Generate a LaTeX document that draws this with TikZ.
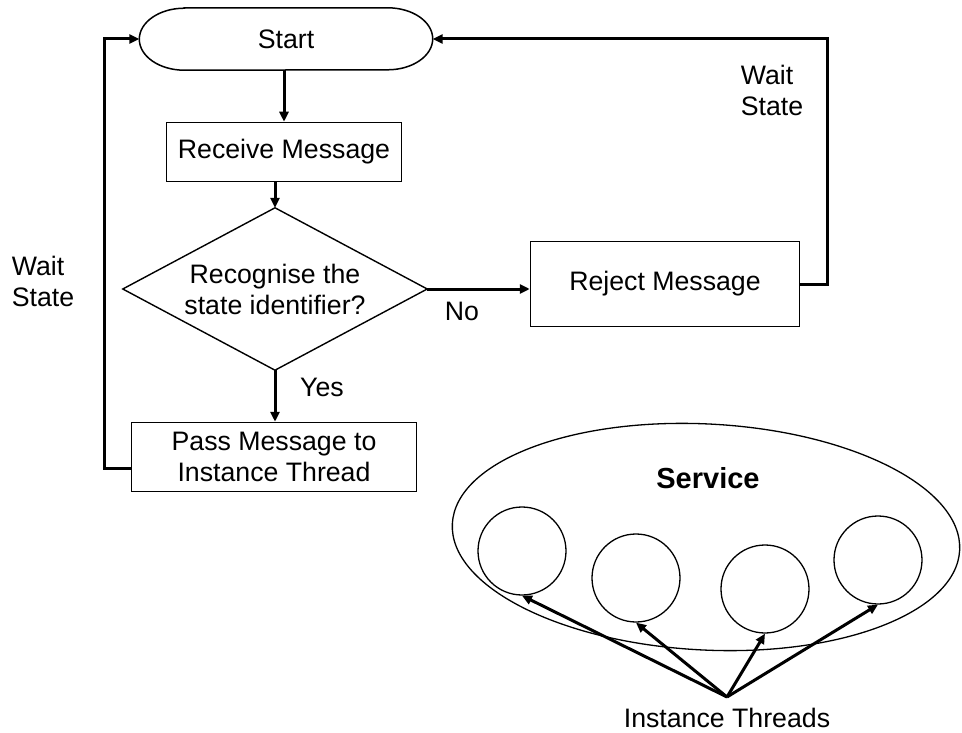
\documentclass[tikz,border=0pt]{standalone}
\usepackage{fontspec}
\setmainfont{Liberation Sans}
\usetikzlibrary{shapes.geometric,arrows.meta}
\begin{document}
\begin{tikzpicture}[x=1pt,y=-1pt,
  every node/.style={font=\fontsize{26.7}{31}\selectfont},
  box/.style={draw, line width=1.5pt, inner sep=0pt, align=center},
  conn/.style={line width=3pt},
  arr/.style={conn, -{Triangle[length=10pt,width=9pt]}},
  thin/.style={line width=1.3pt},
  ring/.style={draw, circle, thin, minimum size=88pt, inner sep=0pt}
]
\useasboundingbox (0,0) rectangle (962,733);

% flowchart nodes
\node[minimum width=293pt, minimum height=62pt, inner sep=0pt] (start) at (286,39) {Start};
\draw[line width=1.5pt] ([xshift=45pt]start.north west) -- ([xshift=-45pt]start.north east)
  arc[start angle=90, end angle=-90, x radius=45pt, y radius=31pt]
  -- ([xshift=45pt]start.south west)
  arc[start angle=270, end angle=90, x radius=45pt, y radius=31pt] -- cycle;

\node[box, minimum width=235pt, minimum height=59pt] (recv) at (284,152) {Receive Message};
\node[minimum width=304pt, minimum height=162pt, inner sep=0pt, align=center] (dec) at (275,289) {Recognise the\\state identifier?};
\draw[line width=1.4pt] (dec.north) -- (dec.east) -- (dec.south) -- (dec.west) -- cycle;
\node[box, minimum width=285pt, minimum height=69pt] (pass) at (274,457) {Pass Message to\\Instance Thread};
\node[box, minimum width=269pt, minimum height=85pt] (rej) at (665,284) {Reject Message};

% labels
\node (yes) at (322,387) {Yes};
\node (no) at (462,311) {No};
\node[align=left] (wl) at (43,281) {Wait\\State};
\node[align=left] (wr) at (772,90) {Wait\\State};

% connectors
\coordinate (lc) at (104,39);
\coordinate (rc) at (827,39);
\draw[arr] (recv.north |- start.south) -- (recv.north);
\draw[arr] (dec.north |- recv.south) -- (dec.north);
\draw[arr] (dec.south) -- (dec.south |- pass.north);
\draw[arr] (dec.east) -- (dec.east -| rej.west);
\draw[arr] ([yshift=-11pt]pass.west) -| (lc) -- (start.west);
\draw[arr] (rej.east) -| (rc) -- (start.east);

% service
\node[draw, ellipse, thin, minimum width=508pt, minimum height=226pt, inner sep=0pt, rotate=-3] (svc) at (706,537) {};
\node[font=\bfseries\fontsize{29}{33}\selectfont] (svct) at (708,478) {Service};
\node[ring] (c1) at (522,551) {};
\node[ring] (c2) at (636,578) {};
\node[ring] (c3) at (765,589) {};
\node[ring] (c4) at (878,560) {};
\node (thr) at (727,718) {Instance Threads};
\coordinate (src) at (727,697);
\foreach \c in {c1,c2,c3,c4} \draw[arr] (src) -- (\c.south);
\end{tikzpicture}
\end{document}
